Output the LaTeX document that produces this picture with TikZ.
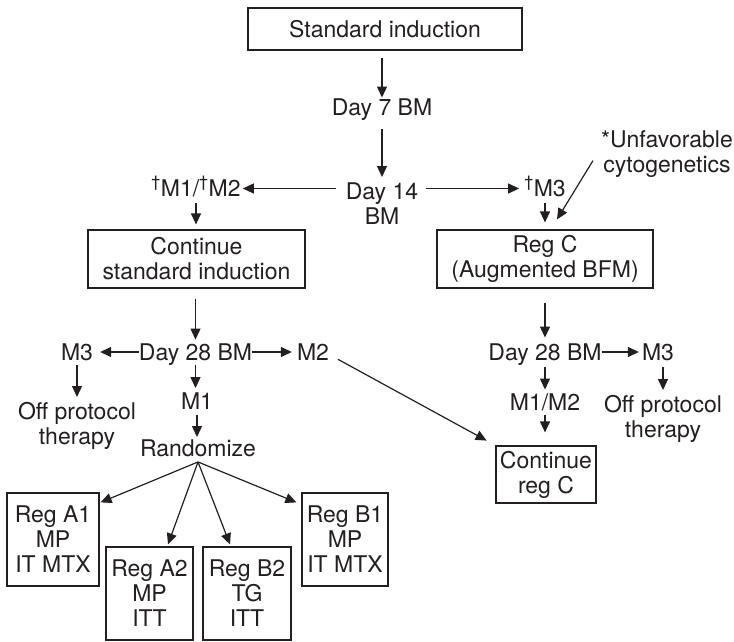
\documentclass[tikz,border=0pt]{standalone}
\usepackage{fontspec}
\setmainfont{TeX Gyre Heros}
\usetikzlibrary{arrows.meta,calc}
\definecolor{ink}{HTML}{231F20}
\begin{document}
\begin{tikzpicture}[x=1pt,y=-1pt,
  every node/.style={font=\fontsize{23}{25}\selectfont, text=ink},
  txt/.style={inner sep=0pt, text height=16.5pt, text depth=5pt},
  mtxt/.style={inner sep=0pt, align=center, anchor=north},
  box/.style={draw=ink, line width=1.2pt, inner sep=0pt, align=center},
  arr/.style={draw=ink, line width=1.2pt, -{Triangle[length=11pt,width=10pt]}}
]
\useasboundingbox (0,0) rectangle (734,642);
\def\hy{2.5pt}
% nodes
\node[box, minimum width=274pt, minimum height=42pt] (std) at (385,29) {Standard induction};
\node[txt] (day7) at (382,109.5) {Day 7 BM};
\node[mtxt] (day14) at (382,183) {Day 14\\BM};
\node[txt] (m12) at (196,191) {\textsuperscript{\textdagger}M1/\textsuperscript{\textdagger}M2};
\node[txt] (m3a) at (545,191) {\textsuperscript{\textdagger}M3};
\node[mtxt] (unfav) at (667,130) {*Unfavorable\\cytogenetics};
\node[box, minimum width=217pt, minimum height=58pt] (contstd) at (196.5,259) {Continue\\standard induction};
\node[box, minimum width=216pt, minimum height=58pt] (regc) at (545,259) {Reg C\\(Augmented BFM)};
\node[txt] (d28a) at (195.5,354.5) {Day 28 BM};
\node[txt] (m3l) at (77,354.5) {M3};
\node[txt] (m2) at (313,354.5) {M2};
\node[mtxt] (offl) at (77,402) {Off protocol\\therapy};
\node[txt] (m1) at (197,404) {M1};
\node[txt] (rand) at (198,451) {Randomize};
\node[txt] (d28b) at (545,354.5) {Day 28 BM};
\node[txt] (m3r) at (658,354.5) {M3};
\node[txt] (m12b) at (545,404.5) {M1/M2};
\node[mtxt] (offr) at (663,395) {Off protocol\\therapy};
\node[box, minimum width=100pt, minimum height=57pt] (contc) at (546,474.5) {Continue\\reg C};
\node[box, minimum width=92pt, minimum height=93pt] (a1) at (53,539.5) {Reg A1\\MP\\IT MTX};
\node[box, minimum width=87pt, minimum height=93pt] (a2) at (149.5,593.5) {Reg A2\\MP\\ITT};
\node[box, minimum width=88pt, minimum height=93pt] (b2) at (247,593.5) {Reg B2\\TG\\ITT};
\node[box, minimum width=86pt, minimum height=93pt] (b1) at (345,539.5) {Reg B1\\MP\\IT MTX};
% connectors
\draw[arr, shorten <=7pt, shorten >=1pt] (day7.north |- std.south) -- (day7.north);
\draw[arr, shorten <=9pt, shorten >=6pt] (day7.south) -- (day14.north);
\draw[arr, shorten <=10pt, shorten >=2pt] ([yshift=\hy]day14.west |- m12.east) -- ([yshift=\hy]m12.east);
\draw[arr, shorten <=8pt, shorten >=5pt] ([yshift=\hy]day14.east |- m3a.west) -- ([yshift=\hy]m3a.west);
\draw[arr, shorten <=1pt, shorten >=5pt] (m12.south) -- (m12.south |- contstd.north);
\draw[arr, shorten <=1pt, shorten >=7pt] (m3a.south) -- (m3a.south |- regc.north);
\coordinate (ustart) at ([shift={(-8pt,-7pt)}]unfav.west);
\coordinate (uend) at ([shift={(12pt,10pt)}]regc.north);
\draw[arr] (ustart) -- (uend);
\draw[arr, shorten <=10pt, shorten >=4pt] (d28a.north |- contstd.south) -- (d28a.north);
\draw[arr, shorten >=7pt] ([yshift=\hy]d28a.west) -- ([yshift=\hy]m3l.east);
\draw[arr, shorten >=5pt] ([yshift=\hy]d28a.east) -- ([yshift=\hy]m2.west);
\draw[arr, shorten >=5pt] (d28a.south) -- (d28a.south |- m1.north);
\draw[arr, shorten >=3pt] (m1.south) -- (m1.south |- rand.north);
\draw[arr, shorten >=5pt] (m3l.south) -- (offl.north);
\draw[arr, shorten <=10pt, shorten >=10pt] (m2.east) -- (contc.north west);
\draw[arr, shorten <=14pt, shorten >=6pt] (regc.south) -- (d28b.north);
\draw[arr, shorten >=3pt] ([yshift=\hy]d28b.east) -- ([yshift=\hy]m3r.west);
\draw[arr, shorten <=2pt, shorten >=4pt] (d28b.south) -- (m12b.north);
\draw[arr, shorten <=2pt, shorten >=5pt] (offr.north |- m3r.south) -- (offr.north);
\draw[arr, shorten >=13pt] (m12b.south) -- (m12b.south |- contc.north);
\draw[arr] (rand.south) -- ([shift={(1pt,-10pt)}]a1.north east);
\draw[arr] (rand.south) -- ([shift={(18.5pt,2pt)}]a2.north);
\draw[arr] (rand.south) -- ([shift={(-17pt,2pt)}]b2.north);
\draw[arr] (rand.south) -- ([shift={(-5pt,-10pt)}]b1.north west);
\end{tikzpicture}
\end{document}
